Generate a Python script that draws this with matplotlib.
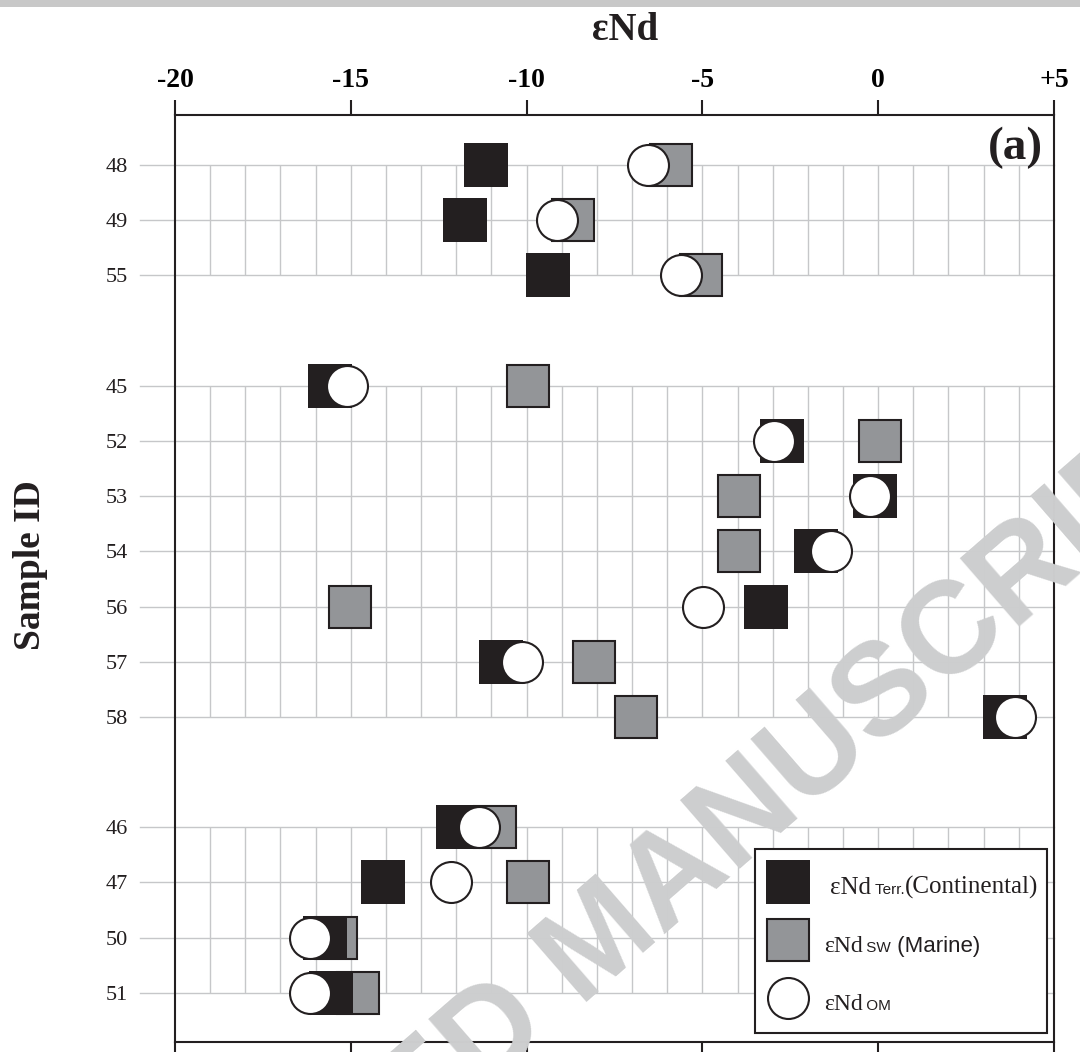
import numpy as np
import matplotlib
matplotlib.use("Agg")
import matplotlib.pyplot as plt
from matplotlib.patches import Rectangle

# sample IDs in plotting order and their row positions (gaps separate the groups)
samples = ['48', '49', '55', '45', '52', '53', '54', '56', '57', '58', '46', '47', '50', '51']
rows = [0, 1, 2, 4, 5, 6, 7, 8, 9, 10, 12, 13, 14, 15]
groups = [(0, 2), (4, 10), (12, 15)]

# eNd values
end_terr = [-11.15, -11.74, -9.38, -15.58, -2.74, -0.10, -1.77, -3.20, -10.73, 3.62,
            -11.95, -14.09, -15.72, -15.57]
end_sw = [-5.90, -8.69, -5.03, -9.97, 0.06, -3.96, -3.96, -15.02, -8.08, -6.90,
          -10.91, -9.96, -15.41, -14.80]
end_om = [-6.55, -9.14, -5.61, -15.12, -2.97, -0.22, -1.33, -4.98, -10.13, 3.90,
          -11.34, -12.14, -16.16, -16.16]

xticks = [-20, -15, -10, -5, 0, 5]
xticklabels = ['-20', '-15', '-10', '-5', '0', '+5']

black = '#231f20'
grey = '#939598'
gridc = '#c6c7c9'
serif = 'Liberation Serif'
sans = 'Liberation Sans'

fig = plt.figure(figsize=(10.8, 10.52), dpi=100)
ax = fig.add_axes([0.162, 0.0095, 0.8139, 0.8812])
ax.set_xlim(-20, 5)
ax.set_ylim(15.89, -0.906)

# watermark
fig.text(0.557, 0.103, 'ACCEPTED MANUSCRIPT', fontsize=94,
         family=sans, fontweight='bold', color='#cdcecf', rotation=41,
         ha='center', va='center', zorder=2)

# grid: rows run out past the left spine, columns only inside each group
for y in rows:
    ax.plot([-21, 5], [y, y], color=gridc, lw=1.0, clip_on=False, zorder=1)
for y0, y1 in groups:
    ax.vlines(np.arange(-19, 5), y0, y1, color=gridc, lw=1.0, zorder=1)

ax.plot(end_sw, rows, 's', ms=30.5, mfc=grey, mec=black, mew=1.5, zorder=3, clip_on=False)
ax.plot(end_terr, rows, 's', ms=31.5, mfc=black, mec=black, mew=0, zorder=4, clip_on=False)
ax.plot(end_om, rows, 'o', ms=29.5, mfc='white', mec=black, mew=1.5, zorder=5, clip_on=False)

for s in ax.spines.values():
    s.set_linewidth(1.5)
    s.set_color(black)

ax.xaxis.tick_top()
ax.set_xticks(xticks)
ax.set_xticklabels(xticklabels, family=serif, fontweight='bold', fontsize=20)
ax.tick_params(axis='x', which='both', top=True, bottom=True, direction='out',
               length=11, width=1.5, color=black, pad=5)
ax.set_yticks(rows)
ax.set_yticklabels(samples, family=serif, fontsize=16, color=black)
ax.tick_params(axis='y', length=0, pad=34)

fig.text(625 / 1080, 1 - 30 / 1052, 'εNd', family=serif, fontweight='bold',
         fontsize=28, ha='center', va='center', color=black)
fig.text(30 / 1080, 1 - 565 / 1052, 'Sample ID', family=serif, fontweight='bold',
         fontsize=27, rotation=90, ha='center', va='center', color=black)
ax.text(0.9875, 0.9644, '(a)', transform=ax.transAxes, family=serif, fontweight='bold',
        fontsize=34, ha='right', va='center', color=black, zorder=6)

# grey strip along the top edge
fig.patches.append(Rectangle((0, 1 - 7 / 1052), 1, 7 / 1052, transform=fig.transFigure,
                             facecolor='#c8c8c8', edgecolor='none'))

# legend box
ax.add_patch(Rectangle((0.660, 0.0097), 0.332, 0.199, transform=ax.transAxes,
                       facecolor='white', edgecolor=black, lw=1.5, zorder=7))
ax.plot([0.697], [0.1726], 's', ms=31.5, mfc=black, mew=0, transform=ax.transAxes, zorder=8)
ax.plot([0.697], [0.110], 's', ms=30.5, mfc=grey, mec=black, mew=1.5,
        transform=ax.transAxes, zorder=8)
ax.plot([0.697], [0.0475], 'o', ms=29.5, mfc='white', mec=black, mew=1.5,
        transform=ax.transAxes, zorder=8)


def label_row(x, y, parts):
    prev = None
    for txt, fam, size in parts:
        if prev is None:
            prev = ax.text(x, y, txt, transform=ax.transAxes, family=fam, fontsize=size,
                           va='baseline', ha='left', color=black, zorder=8)
        else:
            prev = ax.annotate(txt, xy=(1, y), xycoords=(prev, 'axes fraction'),
                               family=fam, fontsize=size, va='baseline', ha='left',
                               color=black, zorder=8)


label_row(0.745, 0.160, [('εNd', serif, 18), (' Terr.', sans, 11),
                          ('(Continental)', serif, 18)])
label_row(0.738, 0.097, [('εNd', serif, 17), (' SW', sans, 11), (' (Marine)', sans, 16)])
label_row(0.738, 0.035, [('εNd', serif, 17), (' OM', sans, 11)])

fig.savefig('out.png', dpi=100)
